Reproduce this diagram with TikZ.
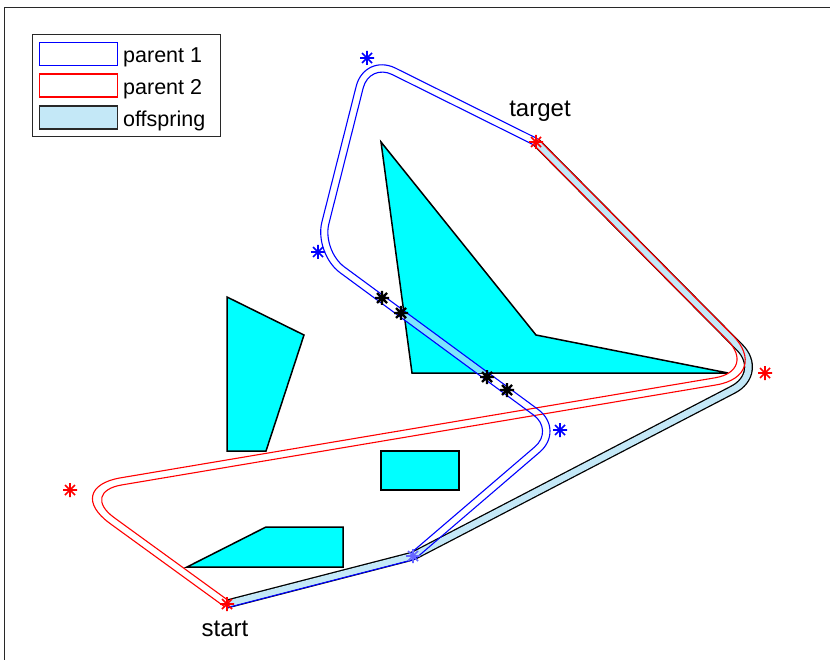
\documentclass[tikz,border=0pt]{standalone}
\usepackage{fontspec}
\setmainfont{Liberation Sans}
\usetikzlibrary{calc}
\definecolor{obst}{RGB}{0,255,255}
\definecolor{offs}{RGB}{196,232,247}
\definecolor{hit}{RGB}{125,228,252}
\definecolor{pblue}{RGB}{0,0,255}
\definecolor{pred}{RGB}{255,0,0}
\definecolor{framec}{RGB}{40,40,40}
\newcommand{\offseg}[3]{%
  \coordinate (#1La) at ($(#2)!3.6pt!90:(#3)$);
  \coordinate (#1Lb) at ($(#3)!3.6pt!-90:(#2)$);
  \coordinate (#1Ra) at ($(#2)!3.6pt!-90:(#3)$);
  \coordinate (#1Rb) at ($(#3)!3.6pt!90:(#2)$);
}
\tikzset{
  obstacle/.style={fill=obst, draw=black, line width=1.5pt, line join=miter},
  tubeedge/.style={line width=1.1pt},
  offspring/.style={draw=black, line width=1.3pt, double=offs, double distance=6.4pt},
  astmark/.pic={\draw (-7,0)--(7,0) (0,-7)--(0,7) (-5,-5)--(5,5) (-5,5)--(5,-5);},
  lbl/.style={font=\fontsize{24}{28}\selectfont, anchor=base, inner sep=0pt},
  legtxt/.style={font=\fontsize{21.5}{25}\selectfont, anchor=base west, inner sep=0pt},
  swatch/.style={minimum width=78pt, minimum height=23pt, anchor=north west, inner sep=0pt, line width=1.2pt},
}
\begin{document}
\begin{tikzpicture}[x=1pt, y=-1pt]
\useasboundingbox (0,0) rectangle (830,660);
\draw[framec, line width=1pt] (4.5,660) -- (4.5,8) -- (830,8);

% obstacles
\draw[obstacle] (381,142) -- (536,335) -- (728,373) -- (412,373) -- cycle;
\draw[obstacle] (227,297) -- (304,335) -- (266,451) -- (227,451) -- cycle;
\draw[obstacle] (381,451) rectangle (459,490);
\draw[obstacle] (187,567) -- (266,527) -- (343,527) -- (343,567) -- cycle;

% way points
\coordinate (st) at (227,604);
\coordinate (tg) at (536,142);
\coordinate (b1) at (413,556);
\coordinate (b2) at (560,430);
\coordinate (b3) at (318,252);
\coordinate (b4) at (367,58);
\coordinate (r1) at (70,490);
\coordinate (r2) at (765,373);
\coordinate (h1) at (382,298);
\coordinate (h2) at (401,313);
\coordinate (h3) at (487,377);
\coordinate (h4) at (507,390);

% tube edge construction
\offseg{bA}{st}{b1}
\offseg{bB}{b1}{b2}
\offseg{bC}{b2}{b3}
\offseg{bD}{b3}{b4}
\offseg{bE}{b4}{tg}
\offseg{rA}{st}{r1}
\offseg{rB}{r1}{r2}
\offseg{rC}{r2}{tg}
\coordinate (bL1) at (intersection of bALa--bALb and bBLa--bBLb);
\coordinate (bL2) at (intersection of bBLa--bBLb and bCLa--bCLb);
\coordinate (bL3) at (intersection of bCLa--bCLb and bDLa--bDLb);
\coordinate (bL4) at (intersection of bDLa--bDLb and bELa--bELb);
\coordinate (bR1) at (intersection of bARa--bARb and bBRa--bBRb);
\coordinate (bR2) at (intersection of bBRa--bBRb and bCRa--bCRb);
\coordinate (bR3) at (intersection of bCRa--bCRb and bDRa--bDRb);
\coordinate (bR4) at (intersection of bDRa--bDRb and bERa--bERb);
\coordinate (rL1) at (intersection of rALa--rALb and rBLa--rBLb);
\coordinate (rL2) at (intersection of rBLa--rBLb and rCLa--rCLb);
\coordinate (rR1) at (intersection of rARa--rARb and rBRa--rBRb);
\coordinate (rR2) at (intersection of rBRa--rBRb and rCRa--rCRb);

% offspring
\draw[offspring] (st) [rounded corners=3pt] -- (b1) [rounded corners=36pt] -- (r2) [sharp corners] -- (tg);

% parent 1 over the obstacle
\begin{scope}
\clip (381,142) -- (536,335) -- (728,373) -- (412,373) -- cycle;
\draw[hit, line width=6.2pt, rounded corners=30pt] (st) -- (b1) -- (b2) -- (b3) -- (b4) -- (tg);
\end{scope}

% parent 2 (corner radius set on the segment entering each corner)
\draw[pred, tubeedge] (rALa) [rounded corners=60.6pt] -- (rL1) [rounded corners=43pt] -- (rL2) [sharp corners] -- (rCLb);
\draw[pred, tubeedge] (rARa) [rounded corners=43.4pt] -- (rR1) [rounded corners=57pt] -- (rR2) [sharp corners] -- (rCRb);
% parent 1
\draw[pblue, tubeedge] (bL1) [rounded corners=25.5pt] -- (bL2) [rounded corners=32.4pt] -- (bL3) [rounded corners=34.5pt] -- (bL4) [sharp corners] -- (bELb);
\draw[pblue, tubeedge] (bARa) [rounded corners=3pt] -- (bR1) [rounded corners=34.5pt] -- (bR2) [rounded corners=27.6pt] -- (bR3) [rounded corners=25.5pt] -- (bR4) [sharp corners] -- (bERb);

% markers
\pic[pblue, line width=1.6pt] at (b4) {astmark};
\pic[pblue, line width=1.6pt] at (b3) {astmark};
\pic[pblue, line width=1.6pt] at (b2) {astmark};
\pic[pblue!60, line width=1.6pt] at (b1) {astmark};
\pic[pred, line width=1.6pt] at (r1) {astmark};
\pic[pred, line width=1.6pt] at (r2) {astmark};
\pic[pred, line width=1.6pt] at (tg) {astmark};
\pic[pred, line width=1.6pt] at (st) {astmark};
\pic[black, line width=2.2pt] at (h1) {astmark};
\pic[black, line width=2.2pt] at (h2) {astmark};
\pic[black, line width=2.2pt] at (h3) {astmark};
\pic[black, line width=2.2pt] at (h4) {astmark};

% labels
\node[lbl] (ltg) at (540,117) {target};
\node[lbl] (lst) at (225,636) {start};

% legend
\node[draw=framec, fill=white, line width=1pt, minimum width=188pt, minimum height=102pt, anchor=north west, inner sep=0pt] (leg) at (32,34) {};
\node[swatch, draw=pblue, fill=white] (sw1) at (39,42) {};
\node[swatch, draw=pred, fill=white] (sw2) at (39,73.5) {};
\node[swatch, draw=framec, fill=offs] (sw3) at (39,105.5) {};
\node[legtxt] (t1) at (123,63) {parent 1};
\node[legtxt] (t2) at (123,95) {parent 2};
\node[legtxt] (t3) at (123,127) {offspring};
\end{tikzpicture}
\end{document}
